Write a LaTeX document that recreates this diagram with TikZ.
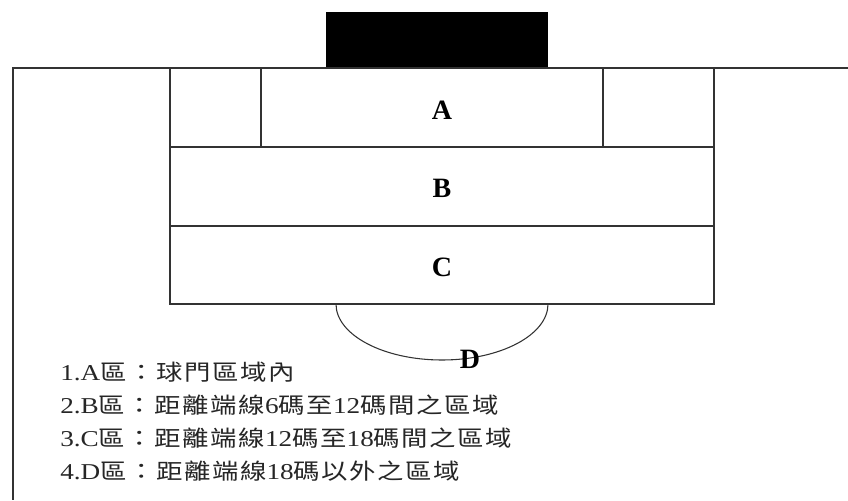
\documentclass[tikz,border=0pt]{standalone}
\usepackage{fontspec}
\usepackage{graphicx}
\setmainfont{Liberation Serif}
\newfontfamily\cjk[LetterSpace=6]{Noto Sans CJK TC}
\newcommand{\zh}[1]{{\fontsize{16.5}{20}\selectfont\cjk #1}}
\newcommand{\wide}[1]{\scalebox{1.2}[1]{#1}}
\begin{document}
\begin{tikzpicture}[x=0.75pt,y=-0.75pt,
  fieldline/.style={draw=black!80,line width=0.8pt},
  zonelabel/.style={font=\fontsize{21}{24}\selectfont\bfseries,inner sep=0pt},
  legend/.style={font=\fontsize{17}{20}\selectfont,text=black!85,anchor=west,inner sep=0pt}]
\useasboundingbox (0,0) rectangle (848,500);
% goal
\fill[black] (326,12) rectangle (548,68);
% goal line and touch line
\draw[fieldline] (848,68) -- (13,68) -- (13,500);
% zones
\draw[fieldline] (170,68) rectangle (261,147);
\draw[fieldline] (603,68) rectangle (714,147);
\draw[fieldline] (261,68) rectangle (603,147);
\draw[fieldline] (170,147) rectangle (714,226);
\draw[fieldline] (170,226) rectangle (714,304);
\draw[fieldline] (336,304) arc[start angle=180,end angle=0,x radius=106,y radius=56];
\node[zonelabel] (A) at (442,110) {A};
\node[zonelabel] (B) at (442,188) {B};
\node[zonelabel] (C) at (442,267) {C};
\node[zonelabel] (D) at (470,359) {D};
% legend
\node[legend] (l1) at (60,372) {\wide{1.A\zh{區：球門區域內}}};
\node[legend] (l2) at (60,405) {\wide{2.B\zh{區：距離端線}6\zh{碼至}12\zh{碼間之區域}}};
\node[legend] (l3) at (60,438) {\wide{3.C\zh{區：距離端線}12\zh{碼至}18\zh{碼間之區域}}};
\node[legend] (l4) at (60,471) {\wide{4.D\zh{區：距離端線}18\zh{碼以外之區域}}};
\end{tikzpicture}
\end{document}
